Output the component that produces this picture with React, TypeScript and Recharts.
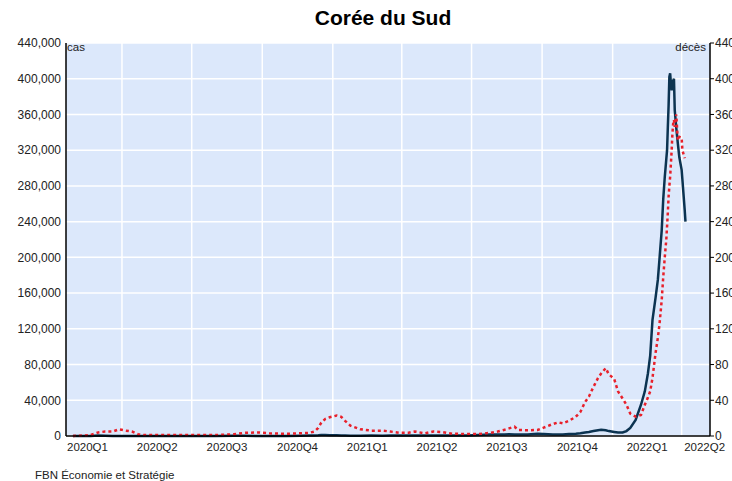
import React from "react";
import { LineChart, Line, XAxis, YAxis, CartesianGrid } from "recharts";

// daily-average values (cas = left axis, décès = right axis)
const dates = [
  "2020-01-28", "2020-02-20", "2020-03-01", "2020-03-10", "2020-03-20", "2020-03-28",
  "2020-04-06", "2020-04-14", "2020-04-22", "2020-05-01", "2020-06-01", "2020-07-01",
  "2020-08-01", "2020-08-25", "2020-09-08", "2020-09-25", "2020-10-10", "2020-11-01",
  "2020-11-20", "2020-12-01", "2020-12-08", "2020-12-13", "2020-12-17", "2020-12-22",
  "2020-12-28", "2021-01-02", "2021-01-06", "2021-01-12", "2021-01-17", "2021-01-24",
  "2021-01-30", "2021-02-06", "2021-02-20", "2021-03-07", "2021-03-17", "2021-03-28",
  "2021-04-10", "2021-04-18", "2021-05-01", "2021-05-12", "2021-05-23", "2021-06-06",
  "2021-06-25", "2021-07-10", "2021-07-25", "2021-08-04", "2021-08-13", "2021-08-19",
  "2021-08-26", "2021-08-31", "2021-09-12", "2021-09-25", "2021-10-03", "2021-10-15",
  "2021-10-22", "2021-10-28", "2021-11-05", "2021-11-14", "2021-11-20", "2021-11-26",
  "2021-12-01", "2021-12-07", "2021-12-13", "2021-12-17", "2021-12-23", "2021-12-27",
  "2022-01-03", "2022-01-08", "2022-01-14", "2022-01-19", "2022-01-24", "2022-01-31",
  "2022-02-07", "2022-02-12", "2022-02-16", "2022-02-19", "2022-02-22", "2022-02-26",
  "2022-03-01", "2022-03-03", "2022-03-06", "2022-03-08", "2022-03-10", "2022-03-12",
  "2022-03-13", "2022-03-14", "2022-03-15", "2022-03-16", "2022-03-17", "2022-03-18",
  "2022-03-19", "2022-03-20", "2022-03-21", "2022-03-22", "2022-03-23", "2022-03-25",
  "2022-03-27", "2022-03-29", "2022-04-01", "2022-04-02", "2022-04-05", "2022-04-06",
];

const cases = [
  0, 100, 550, 300, 120, 100,
  60, 30, 10, 8, 40, 45,
  40, 300, 150, 90, 70, 100,
  300, 500, 650, 800, 1000, 1000,
  950, 850, 750, 550, 450, 400,
  400, 350, 450, 400, 450, 450,
  600, 650, 600, 600, 550, 550,
  600, 1200, 1600, 1600, 1800, 1900,
  1800, 1700, 1800, 2400, 2300, 1700,
  1600, 1800, 2300, 2500, 3000, 3800,
  4500, 5500, 6500, 7000, 6500, 5500,
  4500, 3800, 4000, 5500, 9000, 18000,
  35000, 50000, 70000, 90000, 130000, 155000,
  175000, 197000, 230000, 265000, 290000, 310000,
  320000, 346000, 370000, 402000, 406000, 395000,
  387000, 392000, 398000, 400000, 365000, 345000,
  328000, 312000, 298000, 287000, 253000, 240000,
];

const deaths = [
  0, 1, 4, 5, 5, 7.5,
  6, 5, 2, 1, 1, 1,
  1, 2, 3.5, 4, 3, 2.5,
  3, 3.5, 5, 9, 15, 19,
  21, 22, 23, 21.5, 17, 11.5,
  9.7, 7.5, 6, 6, 5, 3.7,
  3.7, 5, 3, 5, 4.5, 2.5,
  2.2, 2.2, 3.5, 5, 7, 8.6,
  10.4, 6.7, 6.4, 6.7, 9.3, 13.4,
  15.3, 14.2, 17, 21.6, 27, 38,
  44, 55, 65, 70, 76, 69,
  64, 50, 42, 35, 25, 21.6,
  23.5, 35, 43, 50, 65, 93,
  110, 124, 152, 178, 200, 220,
  235, 250, 268, 280, 290, 305,
  320, 339, 350, 354, 346, 360,
  331, 335, 334, 320, 311, null,
];

const quarterLabels = [
  "2020Q1", "2020Q2", "2020Q3", "2020Q4", "2021Q1",
  "2021Q2", "2021Q3", "2021Q4", "2022Q1", "2022Q2",
];
const quarterStarts = [
  "2020-01-01", "2020-04-01", "2020-07-01", "2020-10-01", "2021-01-01",
  "2021-04-01", "2021-07-01", "2021-10-01", "2022-01-01", "2022-04-01", "2022-07-01",
];
const leftTicks = [0, 40000, 80000, 120000, 160000, 200000, 240000, 280000, 320000, 360000, 400000, 440000];
const rightTicks = [0, 40, 80, 120, 160, 200, 240, 280, 320, 360, 400, 440];

const DAY0 = Date.UTC(2020, 0, 1);
const toDay = (s: string) => {
  const [y, m, d] = s.split("-").map(Number);
  return Math.round((Date.UTC(y, m - 1, d) - DAY0) / 86400000);
};

const X_MIN = toDay("2020-01-19");
const X_MAX = toDay("2022-05-08");

const data = dates.map((d, i) => ({ day: toDay(d), cas: cases[i], deces: deaths[i] }));

const startDays = quarterStarts.map(toDay);
// label in the middle of each quarter, last one kept inside the plot
const labelDays = quarterLabels.map((_, i) =>
  Math.round(Math.min((startDays[i] + startDays[i + 1]) / 2, X_MAX - 7))
);
const labelByDay = new Map(labelDays.map((d, i) => [d, quarterLabels[i]]));
const gridDays = startDays.filter((d) => d > X_MIN && d < X_MAX);

const FONT = "'Liberation Sans', Arial, sans-serif";
const NAVY = "#0b3351";
const RED = "#e8202a";

const QuarterTick = (props: any) => {
  const { x, y, payload } = props;
  return (
    <text x={x} y={y + 13} textAnchor="middle" fontSize={11.5} fill="#222" fontFamily={FONT}>
      {labelByDay.get(payload.value) ?? ""}
    </text>
  );
};

const App: React.FC = () => {
  return (
    <div
      style={{
        position: "absolute",
        left: 0,
        top: 0,
        width: 732,
        height: 481,
        overflow: "hidden",
        background: "#fff",
        fontFamily: FONT,
      }}
    >
      <div
        style={{
          position: "absolute",
          left: 0,
          width: 766,
          top: 6,
          textAlign: "center",
          fontSize: 21,
          fontWeight: "bold",
          color: "#000",
        }}
      >
        Corée du Sud
      </div>

      <LineChart
        width={732}
        height={481}
        data={data}
        margin={{ top: 43, right: 0, bottom: 20, left: 6 }}
      >
        <CartesianGrid
          yAxisId="left"
          fill="#dce8fb"
          stroke="#ffffff"
          strokeWidth={1.5}
          verticalValues={gridDays}
        />
        <XAxis
          dataKey="day"
          type="number"
          domain={[X_MIN, X_MAX]}
          allowDataOverflow
          ticks={labelDays}
          interval={0}
          tickLine={false}
          tickSize={0}
          axisLine={{ stroke: "#000", strokeWidth: 1.5 }}
          tick={<QuarterTick />}
          height={25}
        />
        <YAxis
          yAxisId="left"
          orientation="left"
          domain={[0, 440000]}
          ticks={leftTicks}
          interval={0}
          width={60}
          tickLine={false}
          tickSize={0}
          tickMargin={5}
          axisLine={{ stroke: "#000", strokeWidth: 1.5 }}
          tickFormatter={(v: number) => v.toLocaleString("en-US")}
          tick={{ fontSize: 12, fill: "#222", fontFamily: FONT }}
        />
        <YAxis
          yAxisId="right"
          orientation="right"
          domain={[0, 440]}
          ticks={rightTicks}
          interval={0}
          width={22}
          tickSize={4}
          tickMargin={1}
          tickLine={{ stroke: "#000" }}
          axisLine={{ stroke: "#000", strokeWidth: 1.5 }}
          tick={{ fontSize: 12, fill: "#222", fontFamily: FONT, textAnchor: "start" }}
        />
        <Line
          yAxisId="left"
          type="linear"
          dataKey="cas"
          stroke={NAVY}
          strokeWidth={2.5}
          dot={false}
          isAnimationActive={false}
        />
        <Line
          yAxisId="right"
          type="linear"
          dataKey="deces"
          stroke={RED}
          strokeWidth={2.5}
          strokeDasharray="3 3"
          dot={false}
          isAnimationActive={false}
        />
      </LineChart>

      <div style={{ position: "absolute", left: 67, top: 41, fontSize: 11.5, color: "#222" }}>cas</div>
      <div style={{ position: "absolute", right: 26, top: 41, fontSize: 11.5, color: "#222" }}>décès</div>
      <div style={{ position: "absolute", left: 35, top: 469, fontSize: 11.5, color: "#222" }}>
        FBN Économie et Stratégie
      </div>
    </div>
  );
};

export default App;
